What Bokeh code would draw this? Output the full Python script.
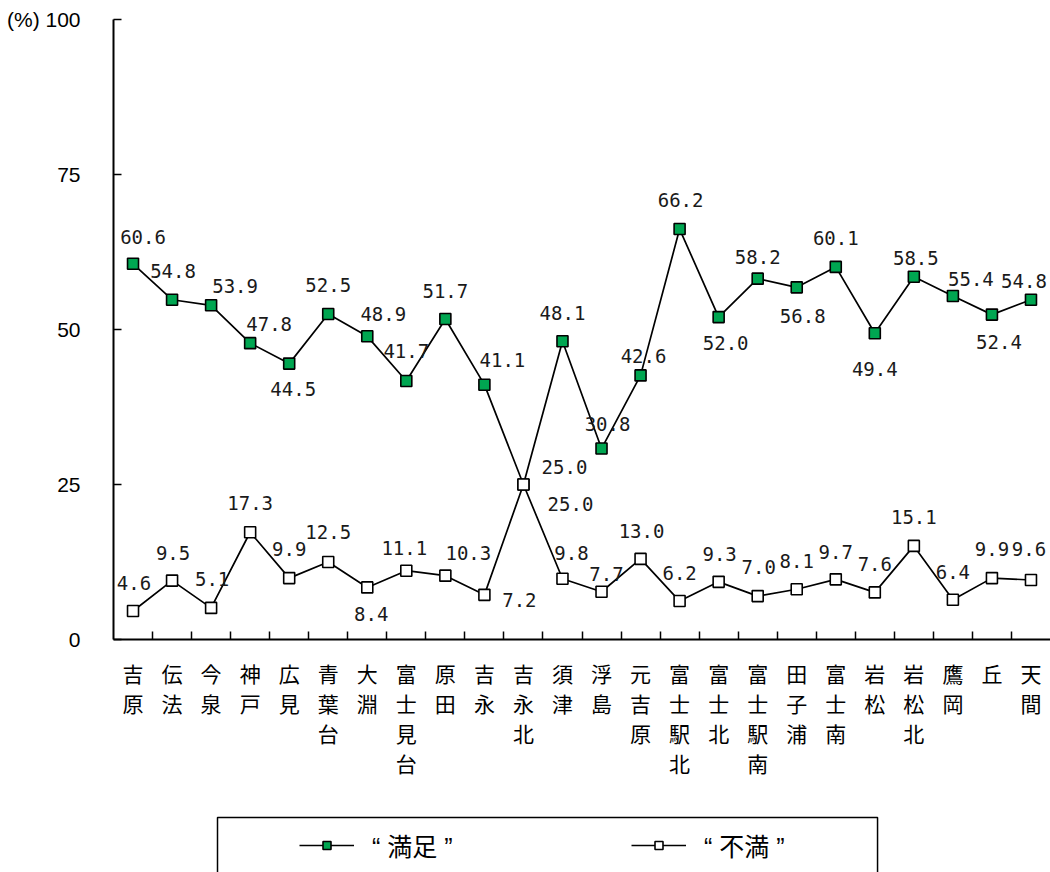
from bokeh.plotting import figure
from bokeh.models import (ColumnDataSource, FactorRange, Range1d, LinearAxis,
                          FixedTicker, Legend, LegendItem, BoxAnnotation)
from bokeh.layouts import column
from bokeh.embed import file_html
from bokeh.resources import INLINE
from bokeh.core.properties import value

# ---------------- data ----------------
categories = ["吉原", "伝法", "今泉", "神戸", "広見", "青葉台", "大淵", "富士見台",
              "原田", "吉永", "吉永北", "須津", "浮島", "元吉原", "富士駅北", "富士北",
              "富士駅南", "田子浦", "富士南", "岩松", "岩松北", "鷹岡", "丘", "天間"]
satisfied = [60.6, 54.8, 53.9, 47.8, 44.5, 52.5, 48.9, 41.7, 51.7, 41.1, 25.0, 48.1,
             30.8, 42.6, 66.2, 52.0, 58.2, 56.8, 60.1, 49.4, 58.5, 55.4, 52.4, 54.8]
dissatisfied = [4.6, 9.5, 5.1, 17.3, 9.9, 12.5, 8.4, 11.1, 10.3, 7.2, 25.0, 9.8,
                7.7, 13.0, 6.2, 9.3, 7.0, 8.1, 9.7, 7.6, 15.1, 6.4, 9.9, 9.6]
series_names = ["“ 満足 ”", "“ 不満 ”"]
y_ticks = [0, 25, 50, 75, 100]
y_unit = "(%)"

# ---------------- label placement (style, screen px) ----------------
sat_dx = [10, 1, 24, 19, 4, 0, 16, 0, 0, 18, 41, 0, 6, 3, 1, 7, 0, 6, 0, 0, 2, 18, 7, -7]
sat_dy = [-27, -29, -19, -19, 25, -29, -22, -30, -28, -25, -18, -28, -25, -19, -29, 26,
          -22, 29, -29, 36, -19, -17, 27, -19]
dis_dx = [1, 1, 1, 0, 0, 0, 4, -2, 23, 35, 47, 9, 5, 1, 0, 1, 1, 0, 0, 0, 0, 0, 0, -2]
dis_dy = [-28, -28, -29, -29, -29, -30, 27, -23, -23, 5, 19, -26, -18, -28, -28, -28,
          -29, -28, -27, -28, -29, -28, -29, -31]

GREEN = "#00A651"
CJK = "Noto Sans CJK JP"
n = len(categories)
BORDER_L, BORDER_R = 113, 0

src_s = ColumnDataSource(dict(x=categories, y=satisfied,
                              t=[f"{v:.1f}" for v in satisfied], dx=sat_dx, dy=sat_dy))
src_d = ColumnDataSource(dict(x=categories, y=dissatisfied,
                              t=[f"{v:.1f}" for v in dissatisfied], dx=dis_dx, dy=dis_dy))

# ---------------- main chart ----------------
p = figure(width=1050, height=805,
           x_range=FactorRange(*categories, range_padding=0),
           y_range=Range1d(0, 100),
           x_axis_location=None, y_axis_location=None,
           output_backend="svg", toolbar_location=None,
           min_border_left=BORDER_L, min_border_right=BORDER_R,
           min_border_top=19, min_border_bottom=166)
p.outline_line_color = None
p.background_fill_color = "white"
for g in p.grid:
    g.visible = False

xaxis = LinearAxis(
    ticker=FixedTicker(ticks=[i + 0.5 for i in range(n)], minor_ticks=list(range(1, n))),
    major_label_overrides={i + 0.5: "\n".join(c) for i, c in enumerate(categories)},
    major_tick_in=0, major_tick_out=0, minor_tick_in=8, minor_tick_out=0,
    axis_line_width=2, axis_line_color="black",
    minor_tick_line_width=1.5, minor_tick_line_color="black",
    major_label_standoff=18,
    major_label_text_font=CJK, major_label_text_font_size="21px",
    major_label_text_line_height=1.0, major_label_text_color="black")
p.add_layout(xaxis, "below")

yaxis = LinearAxis(
    ticker=FixedTicker(ticks=y_ticks, minor_ticks=[]),
    major_label_overrides={100: f"{y_unit} 100"},
    major_tick_in=8, major_tick_out=0, minor_tick_in=0, minor_tick_out=0,
    axis_line_width=2, axis_line_color="black",
    major_tick_line_width=1.5, major_tick_line_color="black",
    major_label_standoff=33,
    major_label_text_font="Liberation Sans", major_label_text_font_size="21px",
    major_label_text_color="black")
p.add_layout(yaxis, "left")

for src, fill in ((src_s, GREEN), (src_d, "white")):
    p.line("x", "y", source=src, line_color="black", line_width=1.7)
    p.scatter("x", "y", source=src, marker="square", size=11,
              fill_color=fill, line_color="black", line_width=1.6)
for src in (src_s, src_d):
    p.text("x", "y", text="t", source=src, x_offset="dx", y_offset="dy",
           text_align="center", text_baseline="middle",
           text_font=value("DejaVu Sans Mono"), text_font_size="19px",
           text_color="#1a1a1a")

# ---------------- legend strip ----------------
# same categorical x scale; y window placed far above the data so the
# series renderers used by the legend draw nothing visible here
lf = figure(width=1050, height=67,
            x_range=FactorRange(*categories, range_padding=0),
            y_range=Range1d(200, 300),
            x_axis_location=None, y_axis_location=None,
            output_backend="svg", toolbar_location=None,
            min_border_left=BORDER_L, min_border_right=BORDER_R,
            min_border_top=0, min_border_bottom=0)
for g in lf.grid:
    g.visible = False
lf.outline_line_color = None

# legend frame box (layout position in category units / y window units)
lf.add_layout(BoxAnnotation(left=2.664, right=19.57, top=282.1, bottom=150,
                            fill_alpha=0, line_color="black", line_alpha=1.0,
                            line_width=1.5))

items = []
for name, src, fill in zip(series_names, (src_s, src_d), (GREEN, "white")):
    r1 = lf.line("x", "y", source=src, line_color="black", line_width=1.7)
    r2 = lf.scatter("x", "y", source=src, marker="square", size=11,
                    fill_color=fill, line_color="black", line_width=1.6)
    items.append(LegendItem(label=name, renderers=[r1, r2]))

legend = Legend(items=items, orientation="horizontal", location=(186, 9),
                border_line_color=None, background_fill_alpha=0,
                padding=0, margin=0, spacing=0,
                glyph_width=55, glyph_height=20, label_standoff=18, label_width=259,
                label_height=20,
                label_text_font="Liberation Sans, Noto Sans CJK JP",
                label_text_font_size="25px", label_text_color="black")
lf.add_layout(legend, "center")

layout = column(p, lf, spacing=0)
open("out.html", "w").write(file_html(layout, INLINE))
